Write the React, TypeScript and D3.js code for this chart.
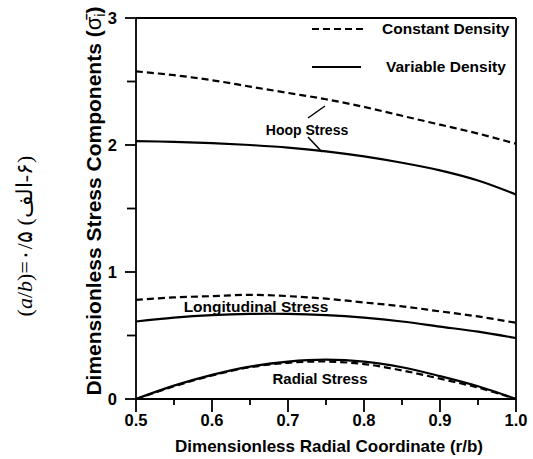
import React from "react";
import * as d3 from "d3";

const rVals = [0.5, 0.55, 0.6, 0.65, 0.7, 0.75, 0.8, 0.85, 0.9, 0.95, 1.0];
const hoopConst = [2.58, 2.55, 2.51, 2.46, 2.41, 2.36, 2.30, 2.23, 2.16, 2.09, 2.01];
const hoopVar = [2.03, 2.025, 2.015, 2.0, 1.98, 1.95, 1.91, 1.86, 1.80, 1.72, 1.61];
const longConst = [0.78, 0.80, 0.81, 0.82, 0.81, 0.79, 0.76, 0.73, 0.69, 0.65, 0.60];
const longVar = [0.61, 0.64, 0.66, 0.67, 0.67, 0.66, 0.64, 0.61, 0.57, 0.53, 0.48];
const radConst = [0, 0.10, 0.185, 0.25, 0.285, 0.295, 0.275, 0.225, 0.16, 0.09, 0];
const radVar = [0, 0.105, 0.19, 0.255, 0.295, 0.31, 0.295, 0.25, 0.18, 0.10, 0];

const xMajor = [0.5, 0.6, 0.7, 0.8, 0.9, 1.0];
const xMinor = [0.55, 0.65, 0.75, 0.85, 0.95];
const yMajor = [0, 1, 2, 3];
const yMinor = [0.5, 1.5, 2.5];

const legendLabels = ["Constant Density", "Variable Density"];

const W = 533, H = 459;
const L = 136, R = 516, T = 18, B = 399;

export default function App() {
  const x = d3.scaleLinear().domain([0.5, 1.0]).range([L, R]);
  const y = d3.scaleLinear().domain([0, 3]).range([B, T]);
  const line = (vals: number[]) =>
    d3.line<number>().x((_, i) => x(rVals[i])).y((v) => y(v)).curve(d3.curveCatmullRom)(vals) || "";

  const font = "Liberation Sans, Arial, sans-serif";
  const dash = "7,4";
  const sw = 2.2;

  return (
    <svg width={W} height={H} style={{ position: "absolute", left: 0, top: 0 }}>
      <rect width={W} height={H} fill="#fff" />
      <g fill="none" stroke="#000" strokeWidth={sw}>
        <path d={line(hoopConst)} strokeDasharray={dash} />
        <path d={line(hoopVar)} />
        <path d={line(longConst)} strokeDasharray={dash} />
        <path d={line(longVar)} />
        <path d={line(radConst)} strokeDasharray={dash} />
        <path d={line(radVar)} />
      </g>
      {/* frame */}
      <g stroke="#000" strokeWidth={1.8} fill="none">
        <line x1={L} x2={L} y1={T} y2={B} />
        <line x1={L} x2={R} y1={B} y2={B} />
        <line x1={L} x2={R} y1={T} y2={T} />
        <line x1={R} x2={R} y1={T} y2={B} />
        {xMajor.map((v) => (
          <line key={"xm" + v} x1={x(v)} x2={x(v)} y1={B} y2={B + 13} />
        ))}
        {xMinor.map((v) => (
          <line key={"xn" + v} x1={x(v)} x2={x(v)} y1={B} y2={B + 6} />
        ))}
        {yMajor.map((v) => (
          <line key={"ym" + v} x1={L - 11} x2={L} y1={y(v)} y2={y(v)} />
        ))}
        {yMinor.map((v) => (
          <line key={"yn" + v} x1={L - 9} x2={L} y1={y(v)} y2={y(v)} />
        ))}
      </g>
      <g fontFamily={font} fontWeight="bold" fontSize={16.5} fill="#000">
        {xMajor.map((v) => (
          <text key={"xl" + v} x={x(v)} y={B + 27} textAnchor="middle">
            {v.toFixed(1)}
          </text>
        ))}
        {yMajor.map((v) => (
          <text key={"yl" + v} x={L - 19} y={y(v) + 6} textAnchor="end">
            {String(v)}
          </text>
        ))}
      </g>
      <text x={(L + R) / 2 + 3} y={452} textAnchor="middle" fontFamily={font} fontWeight="bold" fontSize={17}>
        Dimensionless Radial Coordinate (r/b)
      </text>
      <text
        transform={`translate(101,201) rotate(-90)`}
        textAnchor="middle"
        fontFamily={font}
        fontWeight="bold"
        fontSize={21}
      >
        Dimensionless Stress Components (
        <tspan fontWeight="normal" fontSize={22}>σ̄</tspan>
        <tspan fontWeight="normal" fontSize={15} dy={4}>i</tspan>
        <tspan dy={-4}>)</tspan>
      </text>
      {/* curve labels */}
      <g fontFamily={font} fontWeight="bold">
        <text x={307} y={135} textAnchor="middle" fontSize={14}>Hoop Stress</text>
        <text x={256} y={312} textAnchor="middle" fontSize={15.5}>Longitudinal Stress</text>
        <text x={320} y={384} textAnchor="middle" fontSize={15}>Radial Stress</text>
      </g>
      <g stroke="#000" strokeWidth={1.5}>
        <line x1={308} y1={118} x2={325} y2={106} />
        <line x1={308} y1={137} x2={322} y2={152} />
      </g>
      {/* legend */}
      <g>
        <line x1={312} x2={363} y1={29} y2={29} stroke="#000" strokeWidth={sw} strokeDasharray={dash} />
        <line x1={312} x2={361} y1={67} y2={67} stroke="#000" strokeWidth={sw} />
        <text x={382} y={34} fontFamily={font} fontWeight="bold" fontSize={15.5}>{legendLabels[0]}</text>
        <text x={386} y={72} fontFamily={font} fontWeight="bold" fontSize={15.5}>{legendLabels[1]}</text>
      </g>
      {/* side caption */}
      <text
        transform={`translate(32,236) rotate(-90)`}
        textAnchor="middle"
        fontFamily="Liberation Serif, Times New Roman, serif"
        fontSize={22}
      >
        (<tspan fontStyle="italic">a</tspan>/<tspan fontStyle="italic">b</tspan>)={"\u06F0/\u06F5 (\u200Eالف\u200E-\u06F6)"}
      </text>
    </svg>
  );
}
